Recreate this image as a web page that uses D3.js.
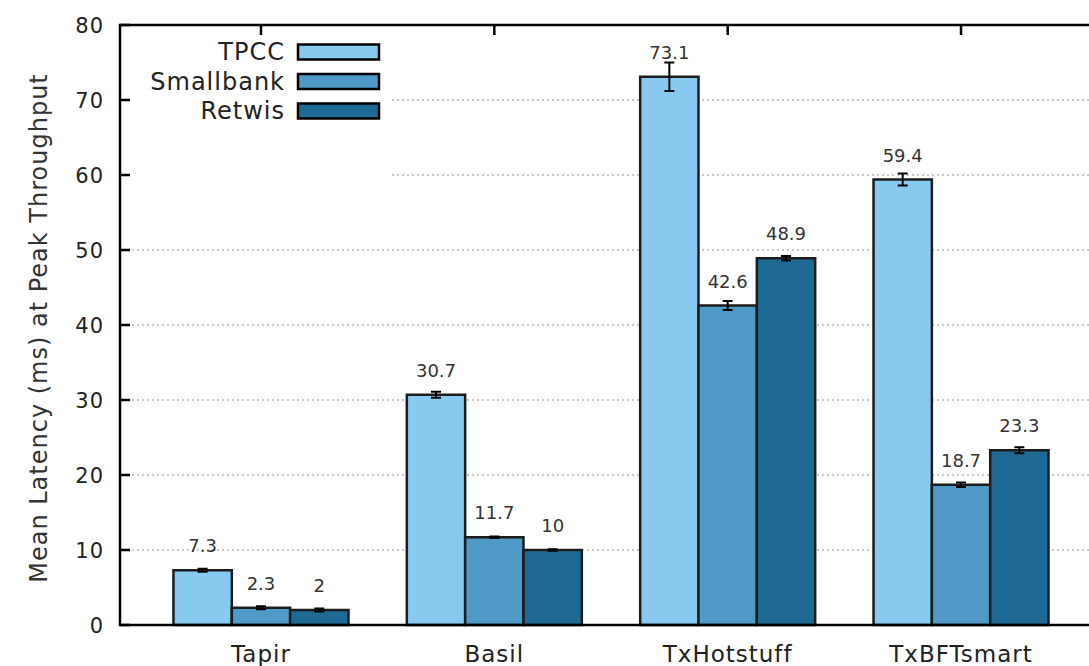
<!DOCTYPE html>
<html>
<head>
<meta charset="utf-8">
<script src="https://cdn.jsdelivr.net/npm/d3@7"></script>
<style>
  body { margin: 0; background: #fff; }
  svg { display: block; font-family: "DejaVu Sans", Verdana, sans-serif; }
</style>
</head>
<body>
<svg id="chart" width="1089" height="666"></svg>
<script>
// data
const categories = ["Tapir", "Basil", "TxHotstuff", "TxBFTsmart"];
const seriesNames = ["TPCC", "Smallbank", "Retwis"];
const tpcc = [7.3, 30.7, 73.1, 59.4];
const smallbank = [2.3, 11.7, 42.6, 18.7];
const retwis = [2, 10, 48.9, 23.3];
const tpccErr = [0.2, 0.4, 1.9, 0.8];
const smallbankErr = [0.2, 0.1, 0.6, 0.3];
const retwisErr = [0.2, 0.1, 0.3, 0.4];
const yTicks = [0, 10, 20, 30, 40, 50, 60, 70, 80];
const yTitle = "Mean Latency (ms) at Peak Throughput";

const colors = ["#87c9ef", "#4f9ac6", "#1e6a95"];
const values = [tpcc, smallbank, retwis];
const errors = [tpccErr, smallbankErr, retwisErr];

const margin = { top: 25, left: 120 };
const height = 600;
const plotRight = 1102;

const svg = d3.select("#chart");

const y = d3.scaleLinear().domain([0, 80]).range([margin.top + height, margin.top]);
const x0 = d3.scaleBand().domain(categories).range([144.3, 1077.7]);
const x1 = d3.scaleBand().domain(seriesNames)
  .range([x0.bandwidth() / 2 - 87.5, x0.bandwidth() / 2 + 87.5]);

const bars = [];
categories.forEach((c, i) => {
  seriesNames.forEach((s, j) => {
    bars.push({ cat: c, name: s, value: values[j][i], err: errors[j][i], color: colors[j] });
  });
});

// dotted grid
svg.append("g")
  .selectAll("line")
  .data(yTicks.filter(t => t > 0 && t < 80))
  .join("line")
  .attr("x1", margin.left + 12)
  .attr("x2", plotRight)
  .attr("y1", d => y(d))
  .attr("y2", d => y(d))
  .attr("stroke", "#b8b8b8")
  .attr("stroke-width", 1.6)
  .attr("stroke-dasharray", "2,3");

// bars
svg.append("g")
  .selectAll("rect")
  .data(bars)
  .join("rect")
  .attr("x", d => x0(d.cat) + x1(d.name))
  .attr("y", d => y(d.value))
  .attr("width", x1.bandwidth())
  .attr("height", d => y(0) - y(d.value))
  .attr("fill", d => d.color)
  .attr("stroke", "#1c1c1c")
  .attr("stroke-width", 2.5);

// error bars
const eb = svg.append("g").attr("stroke", "#000").attr("stroke-width", 2);
bars.forEach(d => {
  const cx = x0(d.cat) + x1(d.name) + x1.bandwidth() / 2;
  eb.append("line").attr("x1", cx).attr("x2", cx)
    .attr("y1", y(d.value + d.err)).attr("y2", y(d.value - d.err));
  [d.value + d.err, d.value - d.err].forEach(v => {
    eb.append("line").attr("x1", cx - 5).attr("x2", cx + 5)
      .attr("y1", y(v)).attr("y2", y(v));
  });
});

// value labels
svg.append("g")
  .selectAll("text")
  .data(bars)
  .join("text")
  .attr("x", d => x0(d.cat) + x1(d.name) + x1.bandwidth() / 2)
  .attr("y", d => y(d.value) - 18)
  .attr("text-anchor", "middle")
  .attr("fill", "#333")
  .style("font-size", "18px")
  .text(d => String(d.value));

// legend (white box hides the grid behind it)
svg.append("rect")
  .attr("x", margin.left + 2).attr("y", margin.top + 2)
  .attr("width", 268).attr("height", 163)
  .attr("fill", "#fff");
const legend = svg.append("g")
  .selectAll("g")
  .data(seriesNames)
  .join("g")
  .attr("transform", (d, i) => "translate(0," + (52 + i * 29.5) + ")");
legend.append("text")
  .attr("x", 285)
  .attr("dy", "0.35em")
  .attr("text-anchor", "end")
  .attr("fill", "#222")
  .style("font-size", "24px")
  .style("letter-spacing", "1px")
  .text(d => d);
legend.append("rect")
  .attr("x", 298).attr("y", -7.5)
  .attr("width", 81).attr("height", 15)
  .attr("fill", (d, i) => colors[i])
  .attr("stroke", "#000")
  .attr("stroke-width", 2.5);

// frame
svg.append("rect")
  .attr("x", margin.left).attr("y", margin.top)
  .attr("width", plotRight - margin.left).attr("height", height)
  .attr("fill", "none")
  .attr("stroke", "#000")
  .attr("stroke-width", 2.5);

// y ticks (inward) and labels
const yAxis = svg.append("g");
yAxis.selectAll("line")
  .data(yTicks)
  .join("line")
  .attr("x1", margin.left).attr("x2", margin.left + 10)
  .attr("y1", d => y(d)).attr("y2", d => y(d))
  .attr("stroke", "#000").attr("stroke-width", 2.5);
yAxis.selectAll("text")
  .data(yTicks)
  .join("text")
  .attr("x", 104)
  .attr("y", d => y(d))
  .attr("dy", "0.36em")
  .attr("text-anchor", "end")
  .attr("fill", "#222")
  .style("font-size", "21px")
  .style("letter-spacing", "1px")
  .text(d => d);

// x ticks on top, labels below
svg.append("g")
  .selectAll("line")
  .data(categories)
  .join("line")
  .attr("x1", d => x0(d) + x0.bandwidth() / 2)
  .attr("x2", d => x0(d) + x0.bandwidth() / 2)
  .attr("y1", margin.top).attr("y2", margin.top + 10)
  .attr("stroke", "#000").attr("stroke-width", 2.5);
svg.append("g")
  .selectAll("text")
  .data(categories)
  .join("text")
  .attr("x", d => x0(d) + x0.bandwidth() / 2)
  .attr("y", 662)
  .attr("text-anchor", "middle")
  .attr("fill", "#222")
  .style("font-size", "23px")
  .style("letter-spacing", "1px")
  .text(d => d);

// y title
svg.append("text")
  .attr("transform", "translate(47,328) rotate(-90)")
  .attr("text-anchor", "middle")
  .attr("fill", "#333")
  .style("font-size", "24px")
  .style("letter-spacing", "1px")
  .text(yTitle);
</script>
</body>
</html>
